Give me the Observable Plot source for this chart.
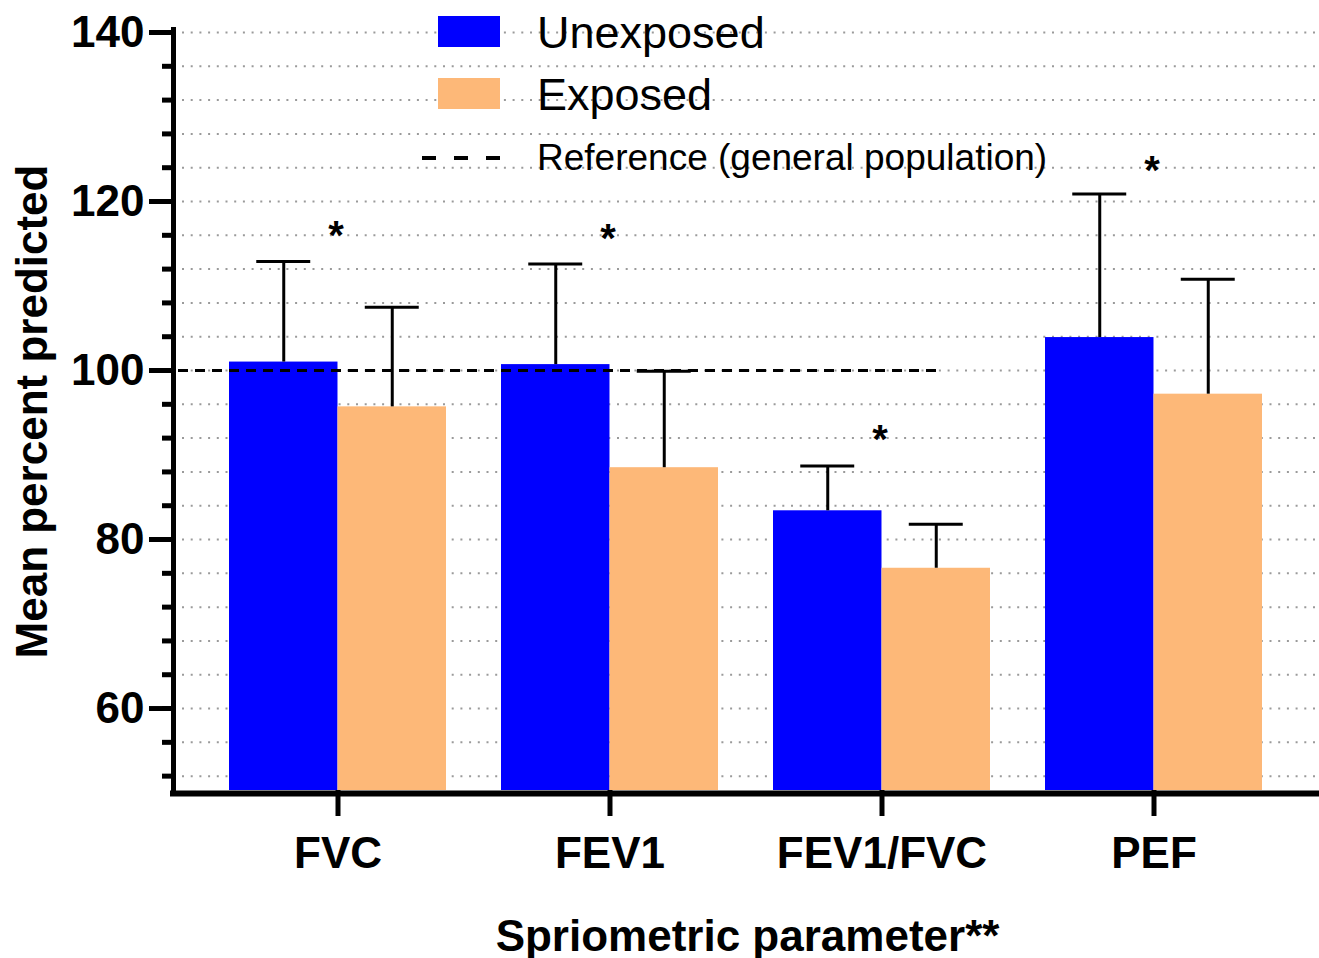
<!DOCTYPE html>
<html>
<head>
<meta charset="utf-8">
<script src="https://cdn.jsdelivr.net/npm/d3@7"></script>
<script src="https://cdn.jsdelivr.net/npm/@observablehq/plot@0.6"></script>
<style>
  html, body { margin: 0; padding: 0; background: #fff; }
  #wrap { position: relative; width: 1319px; height: 958px; font-family: "Liberation Sans", Arial, Helvetica, sans-serif; }
  .sw { position: absolute; }
  .lt { position: absolute; white-space: nowrap; color: #000; line-height: 1; }
</style>
</head>
<body>
<div id="wrap"></div>
<script>
// ---------------- data ----------------
const parameters = ["FVC", "FEV1", "FEV1/FVC", "PEF"];
const groups = ["Unexposed", "Exposed"];
const unexposedMean  = [101.0, 100.7, 83.4, 103.9];
const unexposedUpper = [112.9, 112.6, 88.7, 120.9];
const exposedMean    = [95.7, 88.5, 76.6, 97.2];
const exposedUpper   = [107.5, 99.9, 81.8, 110.8];
const significance   = ["*", "*", "*", "*"];
const significanceAt = [116.5, 116.1, 92.4, 124.2];
const referenceValue = 100;
const referenceLabel = "Reference (general population)";
const yMajorTicks = [60, 80, 100, 120, 140];
const yMinorTicks = [52, 56, 60, 64, 68, 72, 76, 80, 84, 88, 92, 96, 100, 104, 108, 112, 116, 120, 124, 128, 132, 136, 140];
const yLabel = "Mean percent predicted";
const xLabel = "Spriometric parameter**";
const groupColors = ["#0000ff", "#fdb878"];

// ---------------- layout ----------------
const W = 1319, H = 958;
const mL = 175, mR = 0, mT = 32, mB = 168;
const yMin = 50.3, yMax = 140;
const font = '"Liberation Sans", Arial, Helvetica, sans-serif';

const xOpts = {type: "band", domain: parameters, range: [mL, W - mR], paddingInner: 0.204, paddingOuter: 0.2, align: 0.48};
const xs = Plot.scale({x: xOpts});
const bw = xs.bandwidth;
const hw = bw / 2;
const capHalf = 27;

const unexposedRows = parameters.map((p, i) => ({parameter: p, group: groups[0], mean: unexposedMean[i], upper: unexposedUpper[i]}));
const exposedRows   = parameters.map((p, i) => ({parameter: p, group: groups[1], mean: exposedMean[i], upper: exposedUpper[i]}));
const sigRows = parameters.map((p, i) => ({parameter: p, text: significance[i], y: significanceAt[i]}));

const chart = Plot.plot({
  width: W, height: H,
  marginLeft: mL, marginRight: mR, marginTop: mT, marginBottom: mB,
  style: {fontFamily: font, fontWeight: "bold", color: "#000", background: "#fff", overflow: "visible"},
  x: {type: "band", domain: parameters, paddingInner: 0.204, paddingOuter: 0.2, align: 0.48},
  y: {domain: [yMin, yMax]},
  marks: [
    Plot.gridY(yMinorTicks, {stroke: "#9a9a9a", strokeOpacity: 1, strokeWidth: 2, strokeDasharray: "2,6.7", insetLeft: 7}),
    Plot.barY(unexposedRows, {x: "parameter", y1: yMin, y2: "mean", fill: groupColors[0], insetRight: hw}),
    Plot.barY(exposedRows, {x: "parameter", y1: yMin, y2: "mean", fill: groupColors[1], insetLeft: hw}),
    Plot.ruleY([referenceValue], {stroke: "#000", strokeWidth: 3, strokeDasharray: "10,7", insetLeft: 3, insetRight: W - mR - 940}),
    Plot.ruleX(unexposedRows, {x: "parameter", y1: "mean", y2: "upper", dx: -hw / 2, stroke: "#000", strokeWidth: 3}),
    Plot.ruleX(exposedRows, {x: "parameter", y1: "mean", y2: "upper", dx: hw / 2, stroke: "#000", strokeWidth: 3}),
    Plot.tickY(unexposedRows, {x: "parameter", y: "upper", stroke: "#000", strokeWidth: 3, insetLeft: hw / 2 - capHalf, insetRight: bw - hw / 2 - capHalf}),
    Plot.tickY(exposedRows, {x: "parameter", y: "upper", stroke: "#000", strokeWidth: 3, insetLeft: hw + hw / 2 - capHalf, insetRight: hw / 2 - capHalf}),
    Plot.text(sigRows, {x: "parameter", y: "y", text: "text", fontSize: 40, fontWeight: "bold", fill: "#000", dy: 5, dx: -2}),
    Plot.axisY(yMinorTicks, {tickSize: 13, text: null, strokeWidth: 5, label: null}),
    Plot.axisY(yMajorTicks, {tickSize: 26, tickPadding: 5, strokeWidth: 5, fontSize: 44, fontWeight: "bold",
      label: yLabel, labelAnchor: "center", labelOffset: 160, labelArrow: "none", labelFontSize: 42}),
    Plot.axisX({tickSize: 26, tickPadding: 20, strokeWidth: 5, fontSize: 44, fontWeight: "bold",
      label: xLabel, labelAnchor: "center", labelOffset: 160, labelArrow: "none"}),
    Plot.ruleY([yMin], {stroke: "#000", strokeWidth: 6, dy: 3, insetLeft: -5}),
    Plot.frame({anchor: "left", stroke: "#000", strokeWidth: 5, dx: -2, insetTop: -3})
  ]
});

const wrap = document.getElementById("wrap");
wrap.appendChild(chart);

// ---------------- legend (HTML overlay) ----------------
function swatch(left, top, w, h, color) {
  const d = document.createElement("div");
  d.className = "sw";
  Object.assign(d.style, {left: left + "px", top: top + "px", width: w + "px", height: h + "px", background: color});
  wrap.appendChild(d);
}
function label(left, centerY, size, text) {
  const d = document.createElement("div");
  d.className = "lt";
  Object.assign(d.style, {left: left + "px", top: (centerY - 0.49 * size) + "px", fontSize: size + "px", fontWeight: "normal"});
  d.textContent = text;
  wrap.appendChild(d);
}
swatch(438, 16, 62, 31, groupColors[0]);
label(537, 32, 45, groups[0]);
swatch(438, 78, 62, 31, groupColors[1]);
label(537, 94, 45, groups[1]);
const dash = document.createElementNS("http://www.w3.org/2000/svg", "svg");
dash.setAttribute("width", 90); dash.setAttribute("height", 10);
Object.assign(dash.style, {position: "absolute", left: "418px", top: "153px"});
dash.innerHTML = '<line x1="4" x2="82" y1="5" y2="5" stroke="#000" stroke-width="4" stroke-dasharray="14,18"></line>';
wrap.appendChild(dash);
label(537, 157, 37, referenceLabel);
</script>
</body>
</html>
